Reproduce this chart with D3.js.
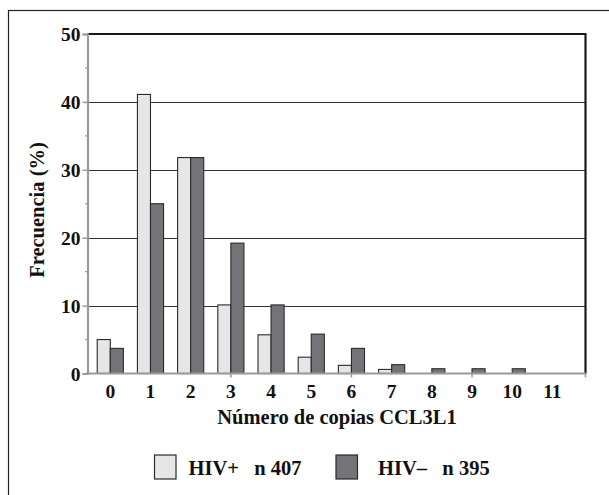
<!DOCTYPE html>
<html>
<head>
<meta charset="utf-8">
<script src="https://cdn.jsdelivr.net/npm/d3@7"></script>
<style>
  html, body { margin: 0; padding: 0; background: #fff; }
  svg { display: block; }
  text { font-family: "Liberation Serif", "Times New Roman", serif; font-weight: bold; fill: #111; }
</style>
</head>
<body>
<svg id="chart" width="609" height="495"></svg>
<script>
// CCL3L1 copy number distribution by HIV status
const categories = ["0", "1", "2", "3", "4", "5", "6", "7", "8", "9", "10", "11"];
const hivPos = [5.0, 41.1, 31.8, 10.1, 5.7, 2.4, 1.2, 0.6, 0, 0, 0, 0];
const hivNeg = [3.7, 25.0, 31.8, 19.2, 10.1, 5.8, 3.7, 1.3, 0.7, 0.7, 0.7, 0];
const seriesNames = ["HIV+", "HIV\u2013"];
const seriesLabels = ["HIV+   n 407", "HIV\u2013   n 395"];
const yTicks = [0, 10, 20, 30, 40, 50];
const yMinorTicks = [5, 15, 25, 35, 45];

const colors = ["#e5e6e8", "#747478"];
const svg = d3.select("#chart");

const plot = { left: 87.5, right: 585.5, top: 34, bottom: 373.5 };

// outer frame
svg.append("rect")
  .attr("x", 8.5).attr("y", 10.5)
  .attr("width", 640).attr("height", 520)
  .attr("fill", "none").attr("stroke", "#222").attr("stroke-width", 1.2);

const y = d3.scaleLinear().domain([0, 50]).range([plot.bottom, plot.top]);

const x = d3.scaleBand()
  .domain(categories)
  .range([90.2, 572.5])
  .paddingInner(0.35)
  .paddingOuter(0.175);

const xs = d3.scaleBand()
  .domain(seriesNames)
  .range([0, x.bandwidth()]);

// gridlines
svg.append("g")
  .selectAll("line")
  .data(yTicks.filter(d => d > 0 && d < 50))
  .join("line")
  .attr("x1", plot.left).attr("x2", plot.right)
  .attr("y1", d => Math.round(y(d)) + 0.5).attr("y2", d => Math.round(y(d)) + 0.5)
  .attr("stroke", "#333").attr("stroke-width", 1);

// bars
const rows = categories.map((c, i) => ({ c, vals: [hivPos[i], hivNeg[i]] }));
const groups = svg.append("g")
  .selectAll("g")
  .data(rows)
  .join("g")
  .attr("transform", d => `translate(${x(d.c)},0)`);

groups.selectAll("rect")
  .data(d => d.vals.map((v, j) => ({ v, s: seriesNames[j], j })).filter(e => e.v > 0))
  .join("rect")
  .attr("x", e => xs(e.s))
  .attr("width", xs.bandwidth())
  .attr("y", e => y(e.v))
  .attr("height", e => y(0) - y(e.v))
  .attr("fill", e => colors[e.j])
  .attr("stroke", "#2a2a2a")
  .attr("stroke-width", 1.1);

// top and right borders of the plot
svg.append("line")
  .attr("x1", plot.left).attr("x2", plot.right + 1)
  .attr("y1", plot.top).attr("y2", plot.top)
  .attr("stroke", "#1a1a1a").attr("stroke-width", 2.2);
svg.append("line")
  .attr("x1", plot.right).attr("x2", plot.right)
  .attr("y1", plot.top).attr("y2", plot.bottom)
  .attr("stroke", "#1a1a1a").attr("stroke-width", 2.2);

// y axis
const yAxis = d3.axisLeft(y).tickValues(yTicks).tickSize(5).tickPadding(2).tickFormat(d3.format("d"));
const gy = svg.append("g").attr("transform", `translate(${plot.left},0)`).call(yAxis);
gy.select(".domain").attr("stroke", "#9a9a9a").attr("stroke-width", 2.2);
gy.selectAll(".tick line").attr("stroke", "#9a9a9a").attr("stroke-width", 1.5);
gy.selectAll(".tick text").style("font-size", "19.5px").attr("fill", "#111")
  .style("font-family", "'Liberation Serif', serif").style("font-weight", "bold")
  .attr("dy", "0.35em");
gy.append("g").selectAll("line")
  .data(yMinorTicks)
  .join("line")
  .attr("x1", -2.5).attr("x2", 0)
  .attr("y1", d => y(d)).attr("y2", d => y(d))
  .attr("stroke", "#9a9a9a").attr("stroke-width", 1.2);

// x axis
const gx = svg.append("g").attr("transform", `translate(0,${plot.bottom})`);
gx.append("line")
  .attr("x1", plot.left - 1).attr("x2", plot.right + 1)
  .attr("stroke", "#9a9a9a").attr("stroke-width", 2.2);
gx.selectAll("line.tk")
  .data(["3", "6", "9"])
  .join("line")
  .attr("class", "tk")
  .attr("x1", d => x(d) + x.bandwidth() / 2).attr("x2", d => x(d) + x.bandwidth() / 2)
  .attr("y1", 0).attr("y2", 4)
  .attr("stroke", "#9a9a9a").attr("stroke-width", 1.5);
gx.append("line")
  .attr("x1", plot.right).attr("x2", plot.right)
  .attr("y1", 0).attr("y2", 4)
  .attr("stroke", "#9a9a9a").attr("stroke-width", 1.5);
gx.selectAll("text")
  .data(categories)
  .join("text")
  .attr("x", d => x(d) + x.bandwidth() / 2)
  .attr("y", 24.5)
  .attr("text-anchor", "middle")
  .style("font-size", "19.5px")
  .text(d => d);

// axis titles
svg.append("text")
  .attr("x", 337).attr("y", 424)
  .attr("text-anchor", "middle")
  .style("font-size", "20.5px")
  .text("Número de copias CCL3L1");

svg.append("text")
  .attr("transform", "translate(44,210) rotate(-90)")
  .attr("text-anchor", "middle")
  .style("font-size", "20.5px")
  .text("Frecuencia (%)");

// legend
const legendX = [154.5, 336];
const legendTextX = [188.5, 378];
const lg = svg.append("g");
seriesNames.forEach((s, i) => {
  lg.append("rect")
    .attr("x", legendX[i]).attr("y", 455)
    .attr("width", 21.5).attr("height", 24)
    .attr("fill", colors[i]).attr("stroke", "#2a2a2a").attr("stroke-width", 1.2);
  lg.append("text")
    .attr("x", legendTextX[i]).attr("y", 475)
    .style("font-size", "20.5px")
    .attr("xml:space", "preserve")
    .text(seriesLabels[i]);
});
</script>
</body>
</html>
